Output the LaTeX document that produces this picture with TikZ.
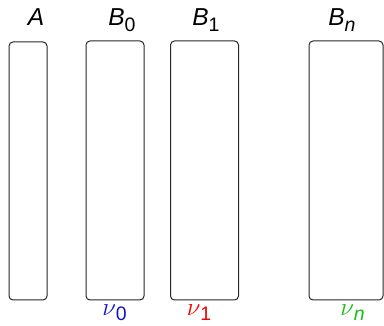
\documentclass[tikz,border=0pt]{standalone}
\usepackage{fontspec}
\setmainfont{Liberation Sans}
\definecolor{nublue}{RGB}{20,20,200}
\definecolor{nured}{RGB}{240,0,0}
\definecolor{nugreen}{RGB}{20,190,20}
\newcommand\tsub[1]{\raisebox{-6pt}{\fontsize{19.5}{19.5}\selectfont #1}}
\newcommand\bsub[1]{\raisebox{-5.5pt}{\fontsize{19.5}{19.5}\selectfont #1}}
\newcommand\nusym{{\fontsize{27}{27}\selectfont$\nu$}}
\begin{document}
\begin{tikzpicture}[x=1pt,y=-1pt,
  box/.style={draw=black!85, line width=1pt, rounded corners=4pt, inner sep=0pt},
  toplabel/.style={anchor=base, inner sep=0pt, font=\fontsize{24.5}{24.5}\selectfont},
  botlabel/.style={anchor=base, inner sep=0pt, font=\fontsize{24.5}{24.5}\selectfont}]
\useasboundingbox (0,0) rectangle (384,326);
\node[box, minimum width=38pt, minimum height=258pt] (bA) at (28,171) {};
\node[box, minimum width=58pt, minimum height=259pt] (bB0) at (115,170.5) {};
\node[box, minimum width=68pt, minimum height=259pt] (bB1) at (204.5,170.5) {};
\node[box, minimum width=74pt, minimum height=259pt] (bBn) at (346,170.5) {};
\node[toplabel] (lA) at (36,26) {\textit{A}};
\node[toplabel] (lB0) at (122,26) {\textit{B}\tsub{0}};
\node[toplabel] (lB1) at (206,26) {\textit{B}\tsub{1}};
\node[toplabel] (lBn) at (342,26) {\textit{B}\tsub{\textit{n}}};
\node[botlabel, text=nublue] (n0) at (114.5,315.5) {\nusym\bsub{0}};
\node[botlabel, text=nured] (n1) at (199,315.5) {\nusym\bsub{1}};
\node[botlabel, text=nugreen] (nn) at (352.5,315.5) {\nusym\bsub{\textit{n}}};
\end{tikzpicture}
\end{document}
